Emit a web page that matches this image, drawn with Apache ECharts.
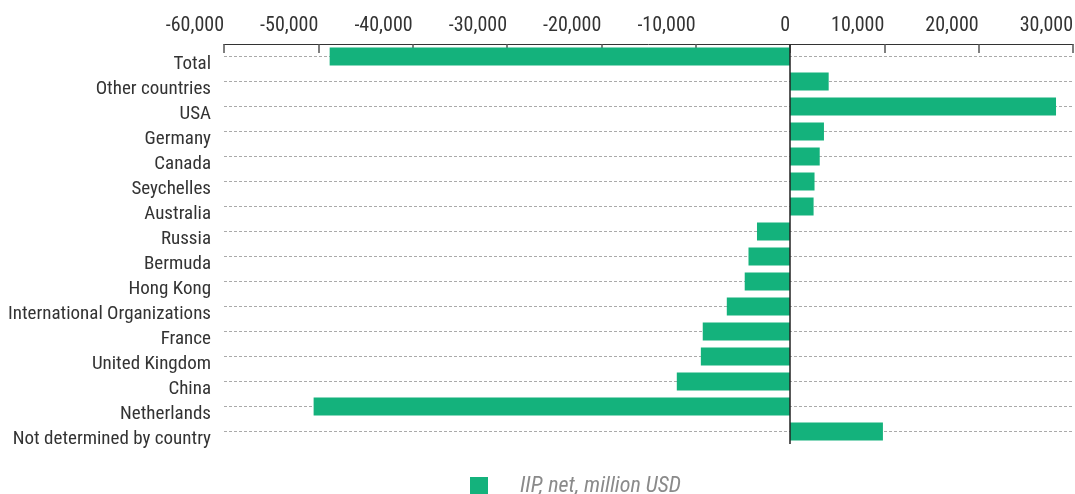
<!DOCTYPE html>
<html>
<head>
<meta charset="utf-8">
<script src="https://cdn.jsdelivr.net/npm/echarts@6/dist/echarts.min.js"></script>
<style>
  html, body { margin: 0; padding: 0; background: #fff; }
  #chart { width: 1075px; height: 494px; }
</style>
</head>
<body>
<div id="chart"></div>
<script>
// data
const categories = ['Total', 'Other countries', 'USA', 'Germany', 'Canada', 'Seychelles', 'Australia',
  'Russia', 'Bermuda', 'Hong Kong', 'International Organizations', 'France', 'United Kingdom',
  'China', 'Netherlands', 'Not determined by country'];
const iipNet = [-48800, 4100, 28200, 3600, 3150, 2600, 2500, -3500, -4400, -4800, -6700, -9250, -9450,
  -12000, -50500, 9850];
const seriesName = 'IIP, net, million USD';

// "condensed" goes into the font shorthand through fontWeight
const font = 'Roboto, sans-serif';
const chart = echarts.init(document.getElementById('chart'));

chart.setOption({
  animation: false,
  textStyle: { fontFamily: font },
  grid: { left: 224, right: 2, top: 44, bottom: 50, containLabel: false, outerBoundsMode: 'none' },
  legend: {
    left: 470,
    top: 475,
    padding: 0,
    itemWidth: 18,
    itemHeight: 18,
    icon: 'rect',
    data: [seriesName],
    textStyle: {
      fontFamily: font,
      fontWeight: 'condensed',
      fontSize: 22,
      fontStyle: 'italic',
      color: '#8a8a8a',
      padding: [0, 0, 0, 27]
    }
  },
  xAxis: {
    type: 'value',
    position: 'top',
    min: -60000,
    max: 30000,
    interval: 10000,
    axisLine: { show: true, lineStyle: { color: '#333', width: 1 } },
    axisTick: { show: true, inside: true, length: 9, lineStyle: { color: '#555', width: 1.5 } },
    axisLabel: {
      fontFamily: font,
      fontWeight: 'condensed',
      fontSize: 20,
      color: '#333',
      align: 'right',
      margin: 8,
      formatter: v => v.toLocaleString('en-US')
    },
    splitLine: { show: false }
  },
  yAxis: {
    type: 'category',
    inverse: true,
    data: categories,
    axisLine: { show: false, onZero: false },
    axisTick: { show: false },
    axisLabel: {
      margin: 13,
      interval: 0,
      formatter: v => '{c|' + v + '}',
      rich: {
        c: {
          fontFamily: font,
          fontWeight: 'condensed',
          fontSize: 19,
          color: '#333',
          padding: [15, 0, 0, 0]
        }
      }
    },
    splitLine: {
      show: true,
      interval: 0,
      alignWithLabel: true,
      lineStyle: { color: '#aaa', type: [3, 2], width: 1 }
    }
  },
  series: [{
    name: seriesName,
    type: 'bar',
    data: iipNet,
    barWidth: 18,
    itemStyle: { color: '#14b27c' },
    markLine: {
      silent: true,
      symbol: 'none',
      label: { show: false },
      lineStyle: { color: '#222', type: 'solid', width: 1.5 },
      data: [{ xAxis: 0 }]
    }
  }]
});
</script>
</body>
</html>
